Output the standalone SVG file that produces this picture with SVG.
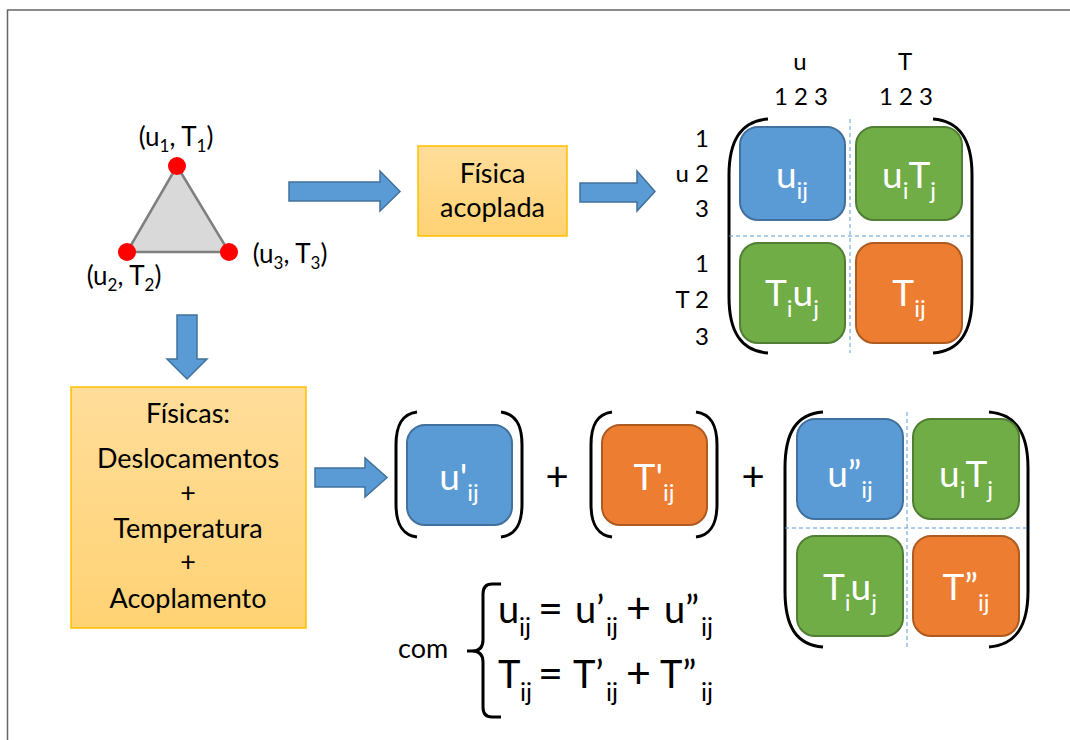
<svg xmlns="http://www.w3.org/2000/svg" width="1070" height="740" viewBox="0 0 1070 740">
<defs>
<linearGradient id="og" x1="0" y1="0" x2="0" y2="1">
<stop offset="0" stop-color="#ffdd9a"/>
<stop offset="1" stop-color="#ffd273"/>
</linearGradient>
<style>
text{font-family:Lato,"Noto Sans","DejaVu Sans",sans-serif;fill:#000}
.t{font-size:27px}
.lbl{font-size:26px}
.ls{font-size:17px}
.hd{font-size:24px}
.w{font-size:37px;fill:#fff}
.ws{font-size:24px;fill:#fff}
.eq{font-size:38px}
.eo{font-size:43px}
.es{font-size:25px}
.plus{font-size:40px}
.arr{fill:#5b9bd5;stroke:#41719c;stroke-width:1.5}
.ob{fill:url(#og);stroke:#ffc000;stroke-width:1.5}
.bl{fill:#5b9bd5;stroke:#41719c;stroke-width:2}
.gr{fill:#70ad47;stroke:#507e32;stroke-width:2}
.or{fill:#ed7d31;stroke:#ae5a21;stroke-width:2}
.br{fill:none;stroke:#000;stroke-width:3}
.dash{stroke:#5b9bd5;stroke-width:1;stroke-dasharray:4 3;fill:none}
</style>
</defs>
<rect width="1070" height="740" fill="#fff"/>
<path d="M7.5,740 V10 H1070" fill="none" stroke="#666" stroke-width="1.5"/>

<g id="triangle">
<polygon points="177,166 127,252 229,252" fill="#d9d9d9" stroke="#7f7f7f" stroke-width="2.5"/>
<circle cx="177" cy="166" r="9" fill="#ff0000"/>
<circle cx="127" cy="252" r="9" fill="#ff0000"/>
<circle cx="229" cy="252" r="9" fill="#ff0000"/>
<text class="lbl" x="176" y="146" text-anchor="middle">(u<tspan class="ls" dy="6">1</tspan><tspan dy="-6">, T</tspan><tspan class="ls" dy="6">1</tspan><tspan dy="-6">)</tspan></text>
<text class="lbl" x="124" y="285" text-anchor="middle">(u<tspan class="ls" dy="6">2</tspan><tspan dy="-6">, T</tspan><tspan class="ls" dy="6">2</tspan><tspan dy="-6">)</tspan></text>
<text class="lbl" x="290" y="263" text-anchor="middle">(u<tspan class="ls" dy="6">3</tspan><tspan dy="-6">, T</tspan><tspan class="ls" dy="6">3</tspan><tspan dy="-6">)</tspan></text>
</g>

<g id="connectors">
<polygon class="arr" points="289,182 380,182 380,171 400,191.5 380,211 380,201 289,201"/>
<polygon class="arr" points="580,183 637,183 637,171 655,191.5 637,211 637,202 580,202"/>
<polygon class="arr" points="177,315 197,315 197,359 207,359 187,379 167,359 177,359"/>
<polygon class="arr" points="315,468 365,468 365,458 387,477.5 365,497 365,487 315,487"/>
</g>

<g id="fisica-acoplada">
<rect class="ob" x="418" y="146" width="149" height="90"/>
<text class="t" x="492.5" y="183" text-anchor="middle">Física</text>
<text class="t" x="492.5" y="217" text-anchor="middle">acoplada</text>
</g>

<g id="fisicas">
<rect class="ob" x="71" y="387" width="235" height="241"/>
<text class="t" x="188" y="423" text-anchor="middle">Físicas:</text>
<text class="t" x="188" y="468" text-anchor="middle">Deslocamentos</text>
<text class="t" x="188" y="502" text-anchor="middle">+</text>
<text class="t" x="188" y="538" text-anchor="middle">Temperatura</text>
<text class="t" x="188" y="571" text-anchor="middle">+</text>
<text class="t" x="188" y="608" text-anchor="middle">Acoplamento</text>
</g>

<g id="matrix-coupled">
<text class="hd" x="800" y="70" text-anchor="middle">u</text>
<text class="hd" x="905" y="70" text-anchor="middle">T</text>
<text class="hd" x="801" y="105" text-anchor="middle">1 2 3</text>
<text class="hd" x="906" y="105" text-anchor="middle">1 2 3</text>
<text class="hd" x="709" y="147" text-anchor="end">1</text>
<text class="hd" x="709" y="182" text-anchor="end">u 2</text>
<text class="hd" x="709" y="217" text-anchor="end">3</text>
<text class="hd" x="709" y="272" text-anchor="end">1</text>
<text class="hd" x="709" y="308" text-anchor="end">T 2</text>
<text class="hd" x="709" y="345" text-anchor="end">3</text>
<path class="br" d="M768,119 C741,121 729,140 729,175 L729,297 C729,332 741,351 768,353"/>
<path class="br" d="M933,119 C960,121 972,140 972,175 L972,297 C972,332 960,351 933,353"/>
<line class="dash" x1="850" y1="119" x2="850" y2="353"/>
<line class="dash" x1="729" y1="236" x2="972" y2="236"/>
<rect class="bl" x="740" y="127" width="105" height="93" rx="18"/>
<rect class="gr" x="856" y="127" width="106" height="93" rx="18"/>
<rect class="gr" x="740" y="243" width="105" height="100" rx="18"/>
<rect class="or" x="856" y="243" width="106" height="100" rx="18"/>
<text class="w" x="792" y="188" text-anchor="middle">u<tspan class="ws" dy="11">ij</tspan></text>
<text class="w" x="909" y="188" text-anchor="middle">u<tspan class="ws" dy="11">i</tspan><tspan dy="-11">T</tspan><tspan class="ws" dy="11">j</tspan></text>
<text class="w" x="792" y="306" text-anchor="middle">T<tspan class="ws" dy="11">i</tspan><tspan dy="-11">u</tspan><tspan class="ws" dy="11">j</tspan></text>
<text class="w" x="909" y="306" text-anchor="middle">T<tspan class="ws" dy="11">ij</tspan></text>
</g>

<g id="matrix-u">
<path class="br" d="M417,412 C402,414 396,425 396,445 L396,504 C396,524 402,535 417,537"/>
<path class="br" d="M501,412 C516,414 522,425 522,445 L522,504 C522,524 516,535 501,537"/>
<rect class="bl" x="407" y="425" width="105" height="100" rx="18"/>
<text class="w" x="459" y="490" text-anchor="middle">u'<tspan class="ws" dy="11">ij</tspan></text>
</g>
<text class="plus" x="557" y="491" text-anchor="middle">+</text>
<g id="matrix-T">
<path class="br" d="M612,412 C597,414 591,425 591,445 L591,504 C591,524 597,535 612,537"/>
<path class="br" d="M696,412 C711,414 717,425 717,445 L717,504 C717,524 711,535 696,537"/>
<rect class="or" x="602" y="425" width="105" height="100" rx="18"/>
<text class="w" x="654" y="490" text-anchor="middle">T'<tspan class="ws" dy="11">ij</tspan></text>
</g>
<text class="plus" x="753" y="491" text-anchor="middle">+</text>

<g id="matrix-rest">
<path class="br" d="M823,412 C796,414 785,433 785,468 L785,591 C785,626 796,645 823,647"/>
<path class="br" d="M989,412 C1016,414 1028,433 1028,468 L1028,591 C1028,626 1016,645 989,647"/>
<line class="dash" x1="907" y1="412" x2="907" y2="647"/>
<line class="dash" x1="785" y1="528" x2="1028" y2="528"/>
<rect class="bl" x="797" y="419" width="106" height="100" rx="18"/>
<rect class="gr" x="913" y="419" width="106" height="100" rx="18"/>
<rect class="gr" x="797" y="536" width="106" height="100" rx="18"/>
<rect class="or" x="913" y="536" width="106" height="100" rx="18"/>
<text class="w" x="850" y="487" text-anchor="middle">u”<tspan class="ws" dy="11">ij</tspan></text>
<text class="w" x="966" y="487" text-anchor="middle">u<tspan class="ws" dy="11">i</tspan><tspan dy="-11">T</tspan><tspan class="ws" dy="11">j</tspan></text>
<text class="w" x="850" y="600" text-anchor="middle">T<tspan class="ws" dy="11">i</tspan><tspan dy="-11">u</tspan><tspan class="ws" dy="11">j</tspan></text>
<text class="w" x="966" y="600" text-anchor="middle">T”<tspan class="ws" dy="11">ij</tspan></text>
</g>

<g id="equations">
<text class="t" x="398" y="658">com</text>
<path class="br" d="M501,584 L492,584 Q483,584 483,594 L483,640 Q483,651 472,651 L467,651 M472,651 Q483,651 483,662 L483,707 Q483,717 492,717 L501,717"/>
<text class="eq" y="623"><tspan x="498">u</tspan><tspan class="es" x="519" y="636">ij</tspan><tspan class="eo" x="538" y="623">=</tspan><tspan x="575">u’</tspan><tspan class="es" x="606" y="636">ij</tspan><tspan class="eo" x="626" y="623">+</tspan><tspan x="664">u”</tspan><tspan class="es" x="701" y="636">ij</tspan></text>
<text class="eq" y="688"><tspan x="498">T</tspan><tspan class="es" x="520" y="701">ij</tspan><tspan class="eo" x="538" y="688">=</tspan><tspan x="573">T’</tspan><tspan class="es" x="606" y="701">ij</tspan><tspan class="eo" x="626" y="688">+</tspan><tspan x="660">T”</tspan><tspan class="es" x="701" y="701">ij</tspan></text>
</g>
</svg>
